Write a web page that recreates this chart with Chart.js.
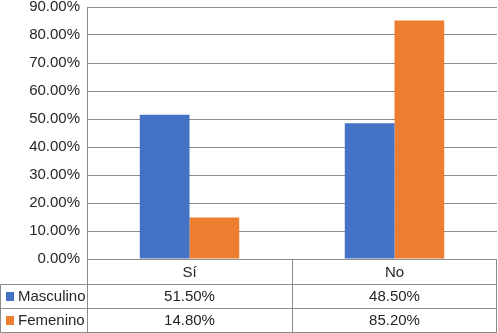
<!DOCTYPE html>
<html>
<head>
<meta charset="utf-8">
<script src="https://cdn.jsdelivr.net/npm/chart.js@4.4.0/dist/chart.umd.min.js"></script>
<style>
  html, body { margin: 0; padding: 0; background: #fff; }
  #wrap { width: 498px; height: 333px; position: relative; }
</style>
</head>
<body>
<div id="wrap"><canvas id="chart"></canvas></div>
<script>
  // datos
  const categorias = ["Sí", "No"];
  const masculino = [0.515, 0.485];
  const femenino = [0.148, 0.852];
  const serieNombres = ["Masculino", "Femenino"];
  const colores = ["#4472C4", "#ED7D31"];

  const LINE = "#8c8c8c";
  const FONT = "Liberation Sans, Arial, sans-serif";

  function pct(v) { return (v * 100).toFixed(2) + "%"; }

  // tabla de datos bajo el eje (estilo Excel)
  const dataTable = {
    id: "dataTable",
    afterDraw(chart) {
      const ctx = chart.ctx;
      const x = chart.scales.x;
      const area = chart.chartArea;
      const top = Math.round(area.bottom);
      const rows = [top, top + 25, top + 49, top + 73].map((r) => Math.min(r, 332));
      const left = Math.round(area.left), right = Math.round(area.right);

      ctx.save();
      ctx.strokeStyle = LINE;
      ctx.lineWidth = 1;
      ctx.beginPath();
      // líneas horizontales
      ctx.moveTo(left, rows[0] + 0.5);
      ctx.lineTo(right, rows[0] + 0.5);
      for (let i = 1; i < rows.length; i++) {
        ctx.moveTo(0.5, rows[i] + 0.5);
        ctx.lineTo(right, rows[i] + 0.5);
      }
      // verticales
      ctx.moveTo(left + 0.5, area.top);
      ctx.lineTo(left + 0.5, rows[3] + 0.5);
      ctx.moveTo(0.5, rows[1] + 0.5);
      ctx.lineTo(0.5, rows[3] + 0.5);
      const mid = Math.round((x.getPixelForValue(0) + x.getPixelForValue(1)) / 2);
      ctx.moveTo(mid + 0.5, rows[0]);
      ctx.lineTo(mid + 0.5, rows[3] + 0.5);
      ctx.moveTo(right - 0.5, rows[0]);
      ctx.lineTo(right - 0.5, rows[3] + 0.5);
      ctx.stroke();

      ctx.font = "15px " + FONT;
      ctx.fillStyle = "#262626";
      ctx.textBaseline = "middle";
      ctx.textAlign = "center";
      categorias.forEach((c, i) => {
        const cx = x.getPixelForValue(i);
        ctx.fillText(c, cx, (rows[0] + rows[1]) / 2 + 1);
        ctx.fillText(pct(masculino[i]), cx, (rows[1] + rows[2]) / 2 + 1);
        ctx.fillText(pct(femenino[i]), cx, (rows[2] + rows[3]) / 2 + 1);
      });

      ctx.textAlign = "left";
      serieNombres.forEach((n, i) => {
        const cy = (rows[i + 1] + rows[i + 2]) / 2;
        ctx.fillStyle = colores[i];
        ctx.fillRect(6, Math.round(cy) - 4, 8, 9);
        ctx.fillStyle = "#262626";
        ctx.fillText(n, 18, cy + 1);
      });
      ctx.restore();
    }
  };

  new Chart(document.getElementById("chart"), {
    type: "bar",
    data: {
      labels: categorias,
      datasets: [
        { label: serieNombres[0], data: masculino, backgroundColor: colores[0] },
        { label: serieNombres[1], data: femenino, backgroundColor: colores[1] },
      ],
    },
    options: {
      responsive: true,
      maintainAspectRatio: false,
      animation: false,
      events: [],
      layout: { padding: { top: 7, right: 1, bottom: 74, left: 0 } },
      datasets: { bar: { categoryPercentage: 0.485, barPercentage: 1 } },
      scales: {
        x: { display: false },
        y: {
          min: 0,
          max: 0.9,
          afterFit: (s) => { s.width = 87; s.paddingTop = 0; s.paddingBottom = 0; },
          border: { display: false },
          grid: { color: LINE, drawTicks: false },
          ticks: {
            stepSize: 0.1,
            padding: 7,
            color: "#262626",
            font: { family: FONT, size: 15 },
            callback: (v) => pct(v),
          },
        },
      },
      plugins: { legend: { display: false }, tooltip: { enabled: false } },
    },
    plugins: [dataTable],
  });
</script>
</body>
</html>
